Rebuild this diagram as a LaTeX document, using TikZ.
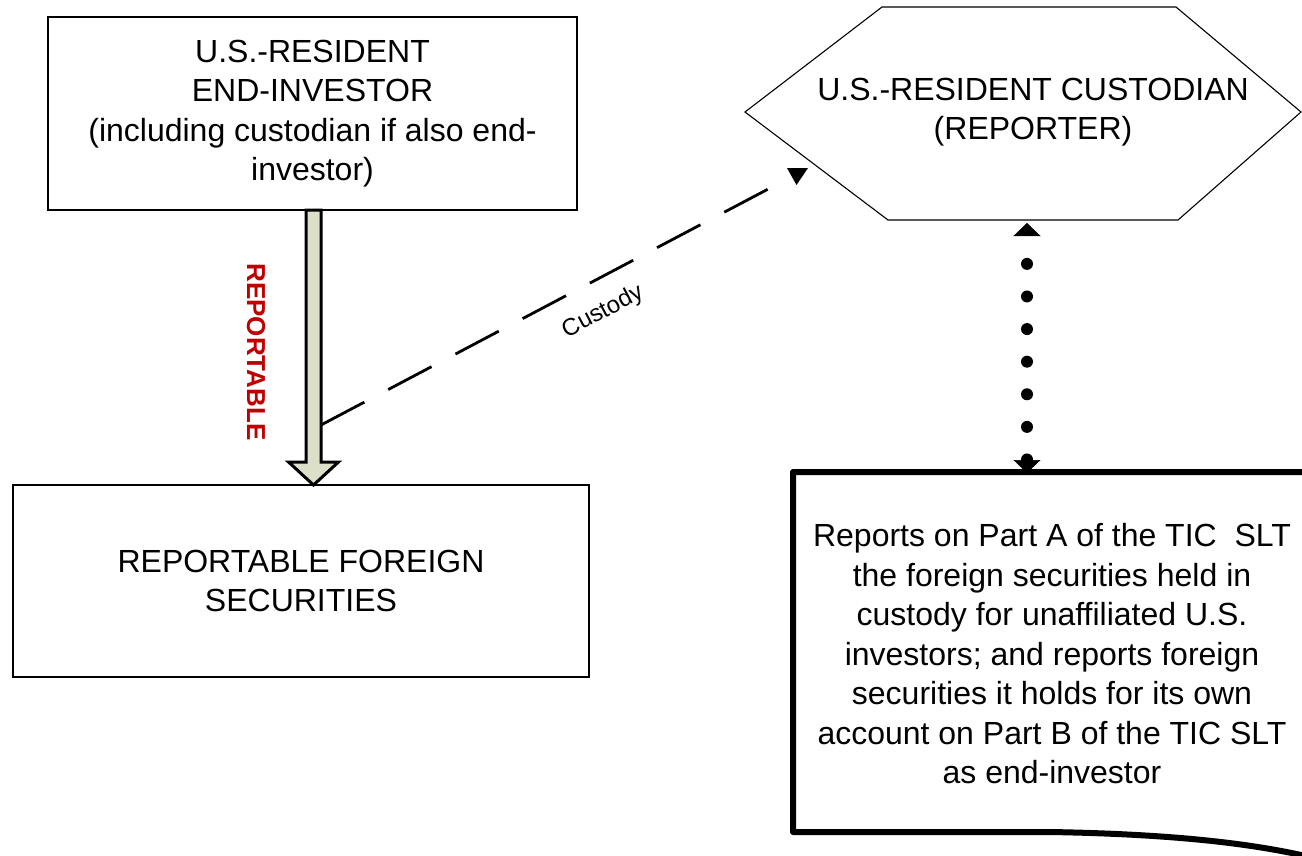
\documentclass[tikz,border=0pt]{standalone}
\usepackage{fontspec}
\setmainfont{Liberation Sans}
\usetikzlibrary{arrows.meta,calc}
\definecolor{shaftfill}{RGB}{221,224,201}
\definecolor{tagred}{RGB}{192,0,0}

\begin{document}
\begin{tikzpicture}[x=1pt,y=-1pt,
  txt/.style={align=center,inner sep=0pt,font=\fontsize{32}{39.5}\selectfont},
  thinbox/.style={txt,draw=black,line width=1.2pt,outer sep=0pt},
  blockarrow/.style={draw=black,fill=shaftfill,line width=3pt,line join=miter},
  custline/.style={line width=2.8pt,dash pattern=on 49pt off 27pt},
  dotlink/.style={line width=12pt,line cap=round,dash pattern=on 0pt off 32.6pt,dash phase=4.6pt,
    {Triangle[width=27pt,length=13pt,line width=0.5pt]}-{Triangle[width=27pt,length=13pt,line width=0.5pt]}},
  docshape/.style={draw=black,line width=6pt,line join=round}]

\useasboundingbox (0,0) rectangle (1302,855);
\clip (0,0) rectangle (1302,855);

% investor and securities boxes
\node[thinbox,minimum width=529pt,minimum height=193pt] (inv) at (312.5,113.5)
  {U.S.-RESIDENT\\END-INVESTOR\\(including custodian if also end-\\investor)};
\node[thinbox,minimum width=576pt,minimum height=192pt] (sec) at (301,581)
  {REPORTABLE FOREIGN\\SECURITIES};

% block arrow from investor down to securities
\coordinate (atop) at ($(inv.south)+(1,0)$);
\coordinate (atip) at (atop |- sec.north);
\draw[blockarrow] ($(atop)+(-7.5,0)$) -- ($(atop)+(7.5,0)$) -- ($(atip)+(7.5,-23)$)
  -- ($(atip)+(25,-23)$) -- (atip) -- ($(atip)+(-25,-23)$) -- ($(atip)+(-7.5,-23)$) -- cycle;
\node[rotate=-90,text=tagred,font=\bfseries\fontsize{26}{30}\selectfont,inner sep=0pt] (tag) at (256,352) {REPORTABLE};

% custodian hexagon
\coordinate (hl) at (745,112);
\coordinate (htl) at (882,7);
\coordinate (htr) at (1176,7);
\coordinate (hr) at (1301,112);
\coordinate (hbr) at (1178,220);
\coordinate (hbl) at (888,220);
\draw[line width=1.1pt] (hl) -- (htl) -- (htr) -- (hr) -- (hbr) -- (hbl) -- cycle;
\node[txt] (cust) at (1033,112) {U.S.-RESIDENT CUSTODIAN\\(REPORTER)};

% dashed custody link
\coordinate (cstart) at ($(atip)+(7.5,-60)$);
\coordinate (cend) at (772,187);
\draw[custline] (cstart) -- (cend);
\fill (787,168) -- (808,168) -- (796.5,185) -- cycle;
\node[rotate=27.8,inner sep=0pt,font=\fontsize{24}{28}\selectfont] (custlbl) at (603,312) {Custody};

% reporting box with wavy bottom edge
\coordinate (rtl) at (793,472);
\coordinate (rtr) at (1310,472);
\coordinate (rbl) at (793,832);
\draw[docshape] (rtr) -- (rtl) -- (rbl) -- (1050,832) .. controls (1170,834) and (1250,843) .. (1310,857);
\node[txt] (rep) at (1052,654) {Reports on Part A of the TIC~~SLT\\the foreign securities held in\\custody for unaffiliated U.S.\\investors; and reports foreign\\securities it holds for its own\\account on Part B of the TIC SLT\\as end-investor};

% dotted link between custodian and report
\coordinate (hbot) at (1027,223);
\coordinate (rtop) at (1027,473);
\draw[dotlink] (hbot) -- (rtop);
\end{tikzpicture}
\end{document}
